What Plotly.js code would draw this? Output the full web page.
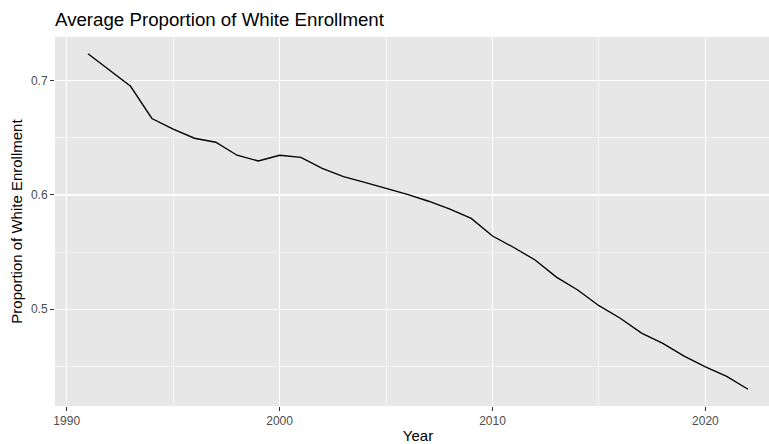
<!DOCTYPE html>
<html>
<head>
<meta charset="utf-8">
<script src="https://cdn.plot.ly/plotly-3.0.1.min.js"></script>
<style>
html,body{margin:0;padding:0;background:#fff;overflow:hidden;width:769px;height:444px;}
#chart{width:781px;height:444px;}
</style>
</head>
<body>
<div id="chart"></div>
<script>
const years = [1991,1992,1993,1994,1995,1996,1997,1998,1999,2000,2001,2002,2003,2004,2005,2006,2007,2008,2009,2010,2011,2012,2013,2014,2015,2016,2017,2018,2019,2020,2021,2022];
const whiteProportion = [0.7237,0.7096,0.6952,0.6670,0.6576,0.6497,0.6462,0.6348,0.6298,0.6348,0.6330,0.6234,0.6160,0.6110,0.6060,0.6005,0.5945,0.5875,0.5795,0.5640,0.5540,0.5430,0.5280,0.5167,0.5030,0.4920,0.4790,0.4700,0.4588,0.4494,0.4410,0.4298];
const xTickVals = [1990,2000,2010,2020];
const yTickVals = [0.5,0.6,0.7];

const font = "Liberation Sans, Arial, Helvetica, sans-serif";
const W = 781;

const trace = {
  x: years, y: whiteProportion, type: 'scatter', mode: 'lines',
  line: {color: '#000000', width: 1.35}, hoverinfo: 'x+y'
};

const layout = {
  width: W, height: 444,
  margin: {l: 55, r: 0, t: 37, b: 38},
  paper_bgcolor: '#ffffff', plot_bgcolor: '#E7E7E7',
  showlegend: false,
  title: {
    text: 'Average Proportion of White Enrollment',
    x: 55/W, xanchor: 'left', xref: 'container',
    y: 1 - 19/444, yanchor: 'middle', yref: 'container',
    font: {family: font, size: 18.7, color: '#000000'}
  },
  xaxis: {
    range: [1989.45, 2023.55],
    tickvals: xTickVals, ticktext: xTickVals.map(String),
    ticks: 'outside', ticklen: 4, tickwidth: 1.07, tickcolor: '#333333',
    tickfont: {family: font, size: 12, color: '#4D4D4D'},
    showgrid: true, gridcolor: '#FFFFFF', gridwidth: 1.1,
    minor: {tickvals: [1995,2005,2015], showgrid: true, gridcolor: '#FFFFFF', gridwidth: 0.55, ticks: ''},
    zeroline: false, showline: false,
    title: {text: 'Year', font: {family: font, size: 15, color: '#000000'}, standoff: 4}
  },
  yaxis: {
    range: [0.4151, 0.7384],
    tickvals: yTickVals, ticktext: yTickVals.map(v => v.toFixed(1)),
    ticks: 'outside', ticklen: 4, tickwidth: 1.07, tickcolor: '#333333',
    tickfont: {family: font, size: 12, color: '#4D4D4D'},
    showgrid: true, gridcolor: '#FFFFFF', gridwidth: 1.1,
    minor: {tickvals: [0.45,0.55,0.65], showgrid: true, gridcolor: '#FFFFFF', gridwidth: 0.55, ticks: ''},
    zeroline: false, showline: false,
    title: {text: 'Proportion of White Enrollment', font: {family: font, size: 15, color: '#000000'}, standoff: 4}
  }
};

Plotly.newPlot('chart', [trace], layout, {displayModeBar: false, staticPlot: true});
</script>
</body>
</html>
